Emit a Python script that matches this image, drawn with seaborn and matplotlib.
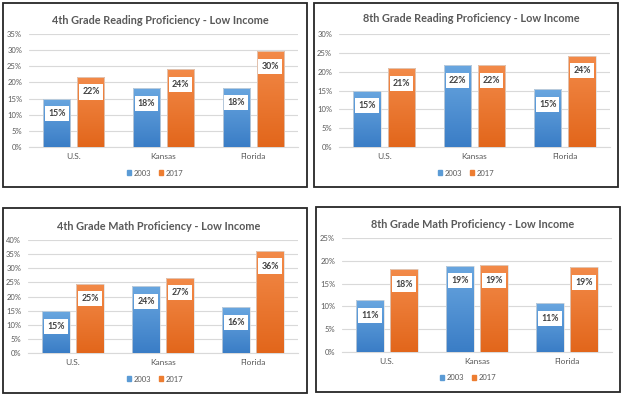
import numpy as np
import pandas as pd
import matplotlib
matplotlib.use("Agg")
import matplotlib.pyplot as plt
import seaborn as sns
from matplotlib.patches import Rectangle
from matplotlib.colors import LinearSegmentedColormap

sns.set_theme(style="white")
plt.rcParams['font.family'] = ['Lato', 'DejaVu Sans']

# ---- data ----
states = ["U.S.", "Kansas", "Florida"]
years = ["2003", "2017"]
titles = ["4th Grade Reading Proficiency - Low Income",
          "8th Grade Reading Proficiency - Low Income",
          "4th Grade Math Proficiency - Low Income",
          "8th Grade Math Proficiency - Low Income"]
read4_2003 = [0.150, 0.182, 0.184]
read4_2017 = [0.217, 0.241, 0.296]
read8_2003 = [0.149, 0.217, 0.153]
read8_2017 = [0.209, 0.217, 0.242]
math4_2003 = [0.148, 0.236, 0.162]
math4_2017 = [0.246, 0.266, 0.361]
math8_2003 = [0.113, 0.189, 0.107]
math8_2017 = [0.182, 0.190, 0.186]
ymaxes = [0.35, 0.30, 0.40, 0.25]

series = [(read4_2003, read4_2017), (read8_2003, read8_2017),
          (math4_2003, math4_2017), (math8_2003, math8_2017)]

W, H = 623, 395
fig = plt.figure(figsize=(W / 100, H / 100), dpi=100)

def fx(x):
    return x / W

def fy(y):
    return 1 - y / H

layout = [
    dict(rect=(3, 3, 307, 187), ax=(29, 34, 298, 147), title=(160, 20), leg=173),
    dict(rect=(314, 3, 618, 187), ax=(339, 34, 610, 147), title=(471, 19), leg=173),
    dict(rect=(3, 208, 307, 393), ax=(28, 240, 298, 353), title=(159, 226), leg=379),
    dict(rect=(316, 207, 620, 392), ax=(342, 238, 612, 352), title=(473, 224), leg=378),
]

blue_cmap = LinearSegmentedColormap.from_list("b", ["#3a7dc6", "#6aa7e0"])
orange_cmap = LinearSegmentedColormap.from_list("o", ["#e2661b", "#f38b4a"])
palette = {"2003": "#5b9bd5", "2017": "#ed7d31"}
grad = np.linspace(0, 1, 256).reshape(-1, 1)

for i, lay in enumerate(layout):
    r = lay["rect"]
    fig.patches.append(Rectangle((fx(r[0]), fy(r[3])), fx(r[2] - r[0]), (r[3] - r[1]) / H,
                                 transform=fig.transFigure, fill=False,
                                 edgecolor="#262626", linewidth=1.3, zorder=-1))
    a = lay["ax"]
    ax = fig.add_axes([fx(a[0]), fy(a[3]), fx(a[2] - a[0]), (a[3] - a[1]) / H])
    ax.set_facecolor("none")
    v03, v17 = series[i]
    df = pd.DataFrame({"state": states * 2,
                       "year": [years[0]] * 3 + [years[1]] * 3,
                       "value": list(v03) + list(v17)})
    sns.barplot(data=df, x="state", y="value", hue="year", palette=palette,
                width=0.76, gap=0.2, ax=ax, legend=False, zorder=3)
    ymax = ymaxes[i]
    for p, val in zip(ax.patches, list(v03) + list(v17)):
        x0, w, h = p.get_x(), p.get_width(), p.get_height()
        fc = p.get_facecolor()
        cm = blue_cmap if fc[2] > fc[0] else orange_cmap
        im = ax.imshow(grad, extent=(x0 - 0.01, x0 + w + 0.01, 0, h * 1.01), origin="lower",
                       cmap=cm, aspect="auto", zorder=3, interpolation="bilinear")
        im.set_clip_path(p)
        p.set_facecolor("none")
        p.set_edgecolor("#dcdcdc")
        p.set_linewidth(0.5)
        p.set_zorder(4)
        ax.annotate(f"{int(round(val * 100 + 1e-6)):d}%", (x0 + w / 2, h), xytext=(0, -10.8),
                    textcoords="offset points", ha="center", va="center",
                    fontsize=6.3, fontweight="bold", color="#404040", zorder=6,
                    bbox=dict(boxstyle="square,pad=0.35", fc="white", ec="none"))
    ax.set_xlim(-0.5, 2.5)
    ax.set_ylim(0, ymax)
    ticks = np.round(np.arange(0, ymax + 1e-9, 0.05), 2)
    ax.set_yticks(ticks)
    ax.set_yticklabels([f"{int(round(t * 100))}%" for t in ticks])
    ax.grid(axis="y", color="#d9d9d9", linewidth=0.8, zorder=0)
    ax.set_axisbelow(True)
    for s in ["top", "right", "left"]:
        ax.spines[s].set_visible(False)
    ax.spines["bottom"].set_color("#d9d9d9")
    ax.spines["bottom"].set_linewidth(0.8)
    ax.tick_params(axis="y", length=0, pad=5, labelsize=5.5, labelcolor="#595959")
    ax.tick_params(axis="x", length=0, pad=4, labelsize=6, labelcolor="#595959")
    ax.set_xlabel("")
    ax.set_ylabel("")
    tx, ty = lay["title"]
    fig.text(fx(tx), fy(ty), titles[i], ha="center", va="center", fontsize=7.8,
             color="#595959", fontweight="bold")
    handles = [Rectangle((0, 0), 1, 1, color=palette[y]) for y in years]
    fig.legend(handles, years, loc="center",
               bbox_to_anchor=(fx((r[0] + r[2]) / 2), fy(lay["leg"])),
               ncol=2, frameon=False, fontsize=5.5, handlelength=0.6,
               handleheight=0.6, handletextpad=0.3, columnspacing=1.0,
               labelcolor="#595959")

fig.savefig("out.png", dpi=100)
